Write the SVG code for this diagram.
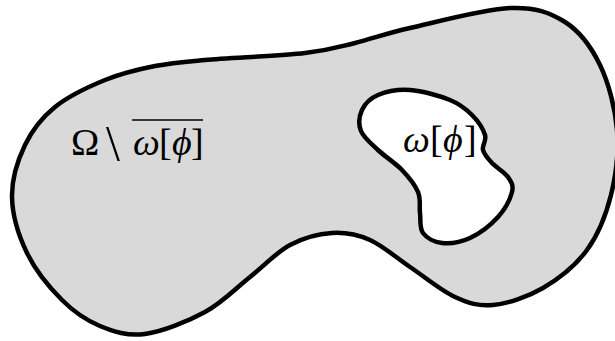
<svg xmlns="http://www.w3.org/2000/svg" width="615" height="341" viewBox="0 0 615 341">
<style>
.region{fill:#d9d9d9;stroke:#000;stroke-width:4.5;stroke-linejoin:round}
.hole{fill:#fff;stroke:#000;stroke-width:4.5;stroke-linejoin:round}
.m{font-family:"Liberation Serif","DejaVu Serif",serif;font-size:38px;fill:#000}
.i{font-style:italic}
.bs{font-size:50px}
</style>
<rect width="615" height="341" fill="#fff"/>
<g id="outer-domain">
<path class="region" d="M510,8 C535.8,7 550,12.5 565,22 C580,31.5 591.3,47 600,65 C608.7,83 615.2,108.3 617,130 C618.8,151.7 616,175 611,195 C606,215 598.3,234.5 587,250 C575.7,265.5 558.7,278.8 543,288 C527.3,297.2 507.7,303.5 493,305 C478.3,306.5 468.8,303.3 455,297 C441.2,290.7 424.2,276.5 410,267 C395.8,257.5 383,245.7 370,240 C357,234.3 345.3,232.2 332,233 C318.7,233.8 303.7,237.7 290,245 C276.3,252.3 264.2,265.8 250,277 C235.8,288.2 222.5,302.5 205,312 C187.5,321.5 162.5,331.7 145,334 C127.5,336.3 113.8,331.7 100,326 C86.2,320.3 74.2,312.2 62,300 C49.8,287.8 35.3,270.2 27,253 C18.7,235.8 12.3,215 12,197 C11.7,179 17.8,160 25,145 C32.2,130 41.7,117.8 55,107 C68.3,96.2 88.3,86.8 105,80 C121.7,73.2 138.3,69.3 155,66 C171.7,62.7 180,62.2 205,60 C230,57.8 280,55.8 305,53 C330,50.2 337.5,47.2 355,43 C372.5,38.8 384.2,33.8 410,28 C435.8,22.2 484.2,9 510,8 Z"/>
</g>
<g id="hole">
<path class="hole" d="M410,90 C422,90.8 439.7,95.8 450,100 C460.3,104.2 466.2,109.2 472,115 C477.8,120.8 483.2,129.2 485,135 C486.8,140.8 481.8,145.3 483,150 C484.2,154.7 487.8,158.5 492,163 C496.2,167.5 504.7,172.2 508,177 C511.3,181.8 513.7,185.3 512,192 C510.3,198.7 505,209.3 498,217 C491,224.7 479.3,233.7 470,238 C460.7,242.3 449.8,243.8 442,243 C434.2,242.2 426.7,238 423,233 C419.3,228 420.8,219.8 420,213 C419.2,206.2 421,199.2 418,192 C415,184.8 408.7,177 402,170 C395.3,163 384.8,156.5 378,150 C371.2,143.5 363.7,137.7 361,131 C358.3,124.3 359.2,116 362,110 C364.8,104 370,98.3 378,95 C386,91.7 398,89.2 410,90 Z"/>
</g>
<g id="label-complement">
<text class="m" y="155"><tspan x="71">Ω</tspan><tspan class="bs" x="106" y="160">\</tspan><tspan class="i" x="133" y="155">ω</tspan><tspan x="159">[</tspan><tspan class="i" x="172">ϕ</tspan><tspan x="191">]</tspan></text>
<line x1="132" y1="120" x2="203" y2="120" stroke="#000" stroke-width="1.3"/>
</g>
<g id="label-hole">
<text class="m" y="152"><tspan class="i" x="403">ω</tspan><tspan x="430">[</tspan><tspan class="i" x="443">ϕ</tspan><tspan x="464">]</tspan></text>
</g>
</svg>
